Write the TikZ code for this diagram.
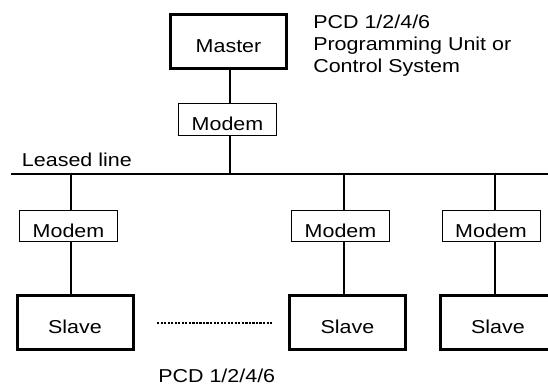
\documentclass[tikz,border=0pt]{standalone}
\usepackage{fontspec}
\setmainfont[FakeStretch=1.15]{Liberation Sans}

\begin{document}
\begin{tikzpicture}[x=0.75pt,y=0.75pt,yscale=-1,xscale=1,
  every node/.style={font=\fontsize{14pt}{16.5pt}\selectfont},
  unitbox/.style={draw,line width=2.25pt,minimum width=87pt,minimum height=40pt,inner sep=0pt,text height=15.75pt,text depth=0pt},
  modembox/.style={draw,line width=0.75pt,minimum width=73.5pt,minimum height=23.5pt,inner sep=0pt,text height=17pt,text depth=0pt},
  wire/.style={line width=2.1pt},
  dotline/.style={line width=1.7pt,dash pattern={on 1.65pt off 1pt}}]
\path[use as bounding box,clip] (0,0) rectangle (548,385);

% master side
\node[unitbox] (master) at (228.5,41.5) {Master};
\node[modembox] (modem0) at (227.5,119.5) {Modem};
\node[anchor=north west,align=left,inner sep=0pt] (pcdnote) at (313,15) {PCD 1/2/4/6\\Programming Unit or\\Control System};

% leased line
\coordinate (busL) at (11,174);
\coordinate (busR) at (548,174);
\coordinate (tap0) at (230,174);
\coordinate (tap1) at (71,174);
\coordinate (tap2) at (344,174);
\coordinate (tap3) at (495,174);
\node[anchor=base west,inner sep=0pt] (leased) at (21.7,166.7) {Leased line};

% slave side
\node[modembox] (modem1) at (68.5,225.75) {Modem};
\node[modembox] (modem2) at (340.5,225.75) {Modem};
\node[modembox] (modem3) at (491,225.75) {Modem};
\node[unitbox] (slave1) at (75,322.5) {Slave};
\node[unitbox] (slave2) at (347.5,322.5) {Slave};
\node[unitbox] (slave3) at (498,322.5) {Slave};
\node[anchor=base west,inner sep=0pt] (pcdlabel) at (158,382) {PCD 1/2/4/6};
\coordinate (dotsL) at (157,323);
\coordinate (dotsR) at (272,323);

\draw[wire] (master.south -| tap0) -- (modem0.north -| tap0);
\draw[wire] (modem0.south -| tap0) -- (tap0);
\draw[wire] (busL) -- (busR);
\foreach \i in {1,2,3}{
  \draw[wire] (tap\i) -- (modem\i.north -| tap\i);
  \draw[wire] (modem\i.south -| tap\i) -- (slave\i.north -| tap\i);
}
\draw[dotline] (dotsL) -- (dotsR);

\end{tikzpicture}
\end{document}
